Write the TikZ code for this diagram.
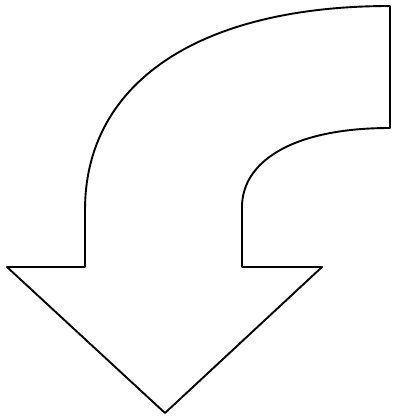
\documentclass[tikz,border=0pt]{standalone}
\begin{document}
\begin{tikzpicture}[x=1pt,y=-1pt,line cap=round,line join=round]
  \useasboundingbox (0,0) rectangle (399,419);
  \draw[line width=1.9pt] (390,6) .. controls (200,6) and (85,82) .. (85,210)
    -- (85,267) -- (7,267) -- (165,413) -- (322,267) -- (242,267) -- (242,207)
    .. controls (242,163) and (290,128) .. (390,128) -- cycle;
\end{tikzpicture}
\end{document}
